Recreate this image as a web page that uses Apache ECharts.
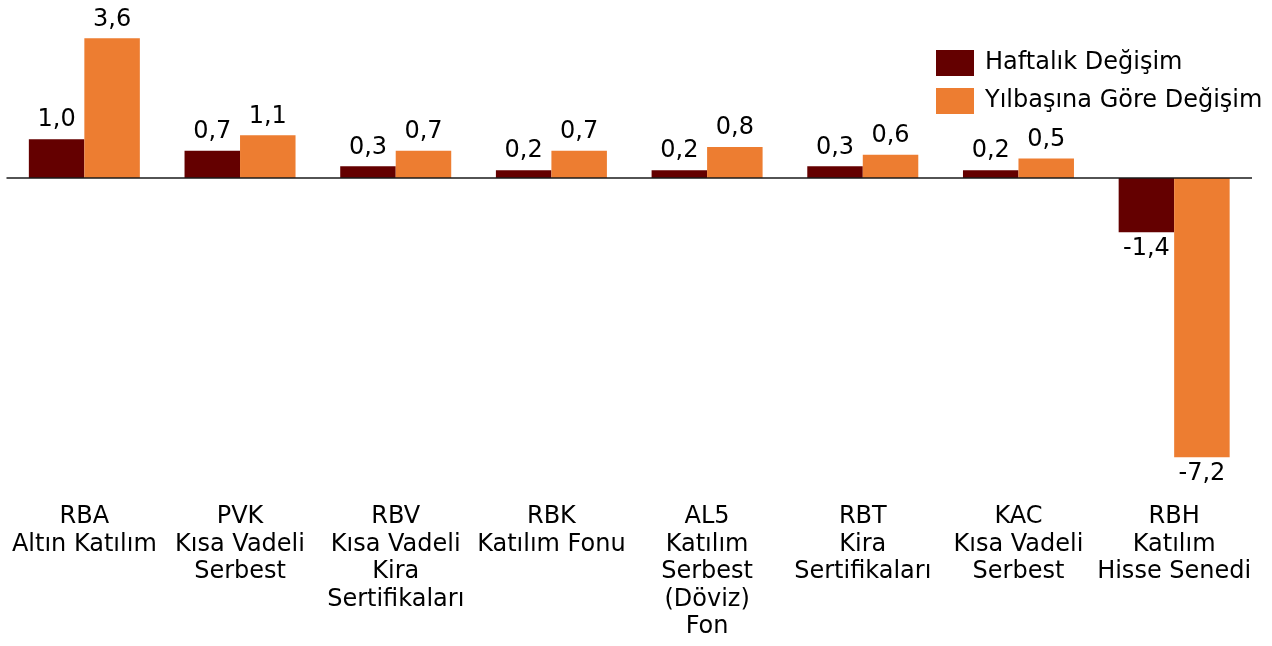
<!DOCTYPE html>
<html>
<head>
<meta charset="utf-8">
<script src="https://cdn.jsdelivr.net/npm/echarts@6/dist/echarts.min.js"></script>
<style>
html,body{margin:0;padding:0;background:#fff;}
#c{width:1272px;height:646px;}
</style>
</head>
<body>
<div id="c"></div>
<script>
const categories = [
  "RBA\nAltın Katılım",
  "PVK\nKısa Vadeli\nSerbest",
  "RBV\nKısa Vadeli\nKira\nSertifikaları",
  "RBK\nKatılım Fonu",
  "AL5\nKatılım\nSerbest\n(Döviz)\nFon",
  "RBT\nKira\nSertifikaları",
  "KAC\nKısa Vadeli\nSerbest",
  "RBH\nKatılım\nHisse Senedi"
];
const seriesNames = ["Haftalık Değişim", "Yılbaşına Göre Değişim"];
const weekly = [1.0, 0.7, 0.3, 0.2, 0.2, 0.3, 0.2, -1.4];
const ytd = [3.6, 1.1, 0.7, 0.7, 0.8, 0.6, 0.5, -7.2];
const colors = ["#640000", "#ED7D31"];

const FONT = "DejaVu Sans";
const FS = 24;
const fmt = v => v.toFixed(1).replace('.', ',');
function items(arr) {
  return arr.map(v => ({
    value: v,
    label: v < 0 ? {position: 'bottom', distance: 4} : {position: 'top', distance: 7}
  }));
}

const chart = echarts.init(document.getElementById('c'), null, {renderer: 'canvas'});
chart.setOption({
  animation: false,
  backgroundColor: '#ffffff',
  textStyle: {fontFamily: FONT},
  grid: {left: 6.5, right: 20, top: 22.8, bottom: 157.6, containLabel: false},
  legend: {
    orient: 'vertical',
    left: 931,
    top: 45,
    itemWidth: 38,
    itemHeight: 26,
    itemGap: 12,
    icon: 'rect',
    textStyle: {fontFamily: FONT, fontSize: FS, color: '#000', padding: [0, 0, 0, 6]},
    data: seriesNames
  },
  xAxis: {
    type: 'category',
    data: categories,
    axisLine: {show: false, onZero: false},
    axisTick: {show: false},
    axisLabel: {
      interval: 0,
      margin: 15,
      fontFamily: FONT,
      fontSize: FS,
      lineHeight: 27.5,
      color: '#000',
      align: 'center'
    }
  },
  yAxis: {
    type: 'value',
    min: -8,
    max: 4,
    show: false,
    splitLine: {show: false}
  },
  series: [
    {
      name: seriesNames[0],
      type: 'bar',
      data: items(weekly),
      barWidth: 55.5,
      barGap: '0%',
      itemStyle: {color: colors[0]},
      label: {show: true, formatter: p => fmt(p.value), fontFamily: FONT, fontSize: FS, color: '#000'},
      markLine: {
        silent: true,
        symbol: ['none', 'none'],
        label: {show: false},
        lineStyle: {color: '#1a1a1a', width: 1.5, type: 'solid'},
        data: [{yAxis: 0}],
        z: 10
      }
    },
    {
      name: seriesNames[1],
      type: 'bar',
      data: items(ytd),
      barWidth: 55.5,
      barGap: '0%',
      itemStyle: {color: colors[1]},
      label: {show: true, formatter: p => fmt(p.value), fontFamily: FONT, fontSize: FS, color: '#000'}
    }
  ]
});
</script>
</body>
</html>
